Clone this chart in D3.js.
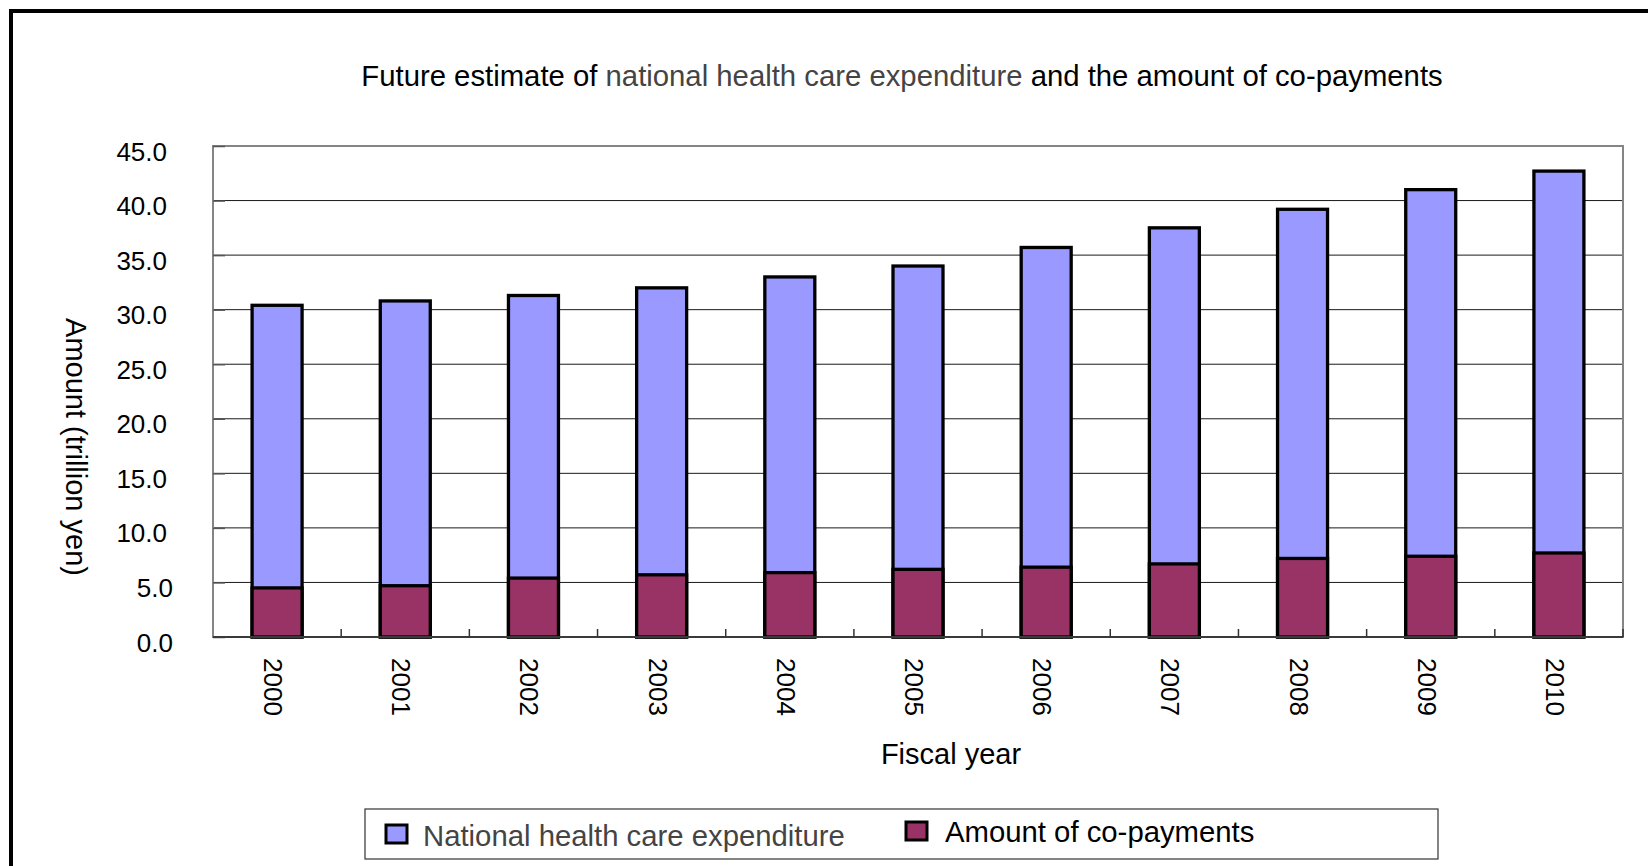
<!DOCTYPE html>
<html>
<head>
<meta charset="utf-8">
<script src="https://cdn.jsdelivr.net/npm/d3@7"></script>
<style>
  html, body { margin: 0; padding: 0; background: #fff; }
  svg { display: block; font-family: "Liberation Sans", Arial, sans-serif; }
</style>
</head>
<body>
<svg id="chart" width="1648" height="866"></svg>
<script>
// Fiscal years on the category axis
const years = ["2000", "2001", "2002", "2003", "2004", "2005", "2006", "2007", "2008", "2009", "2010"];
// National health care expenditure (trillion yen)
const expenditure = [30.4, 30.8, 31.3, 32.0, 33.0, 34.0, 35.7, 37.5, 39.2, 41.0, 42.7];
// Amount of co-payments (trillion yen)
const copayments = [4.5, 4.7, 5.4, 5.7, 5.9, 6.2, 6.4, 6.7, 7.2, 7.4, 7.7];
// Value-axis ticks
const yTicks = [0, 5, 10, 15, 20, 25, 30, 35, 40, 45];

const seriesNames = ["National health care expenditure", "Amount of co-payments"];
const colors = ["#9999FF", "#993366"];

const svg = d3.select("#chart");

// outer frame
svg.append("rect")
  .attr("x", 11).attr("y", 11).attr("width", 1700).attr("height", 900)
  .attr("fill", "#fff").attr("stroke", "#000").attr("stroke-width", 4);

const plot = { left: 213, right: 1623, top: 146, bottom: 637 };

const x = d3.scaleBand()
  .domain(years)
  .range([plot.left, plot.right])
  .paddingInner(0.61)
  .paddingOuter(0.305);

const y = d3.scaleLinear().domain([0, 45]).range([plot.bottom, plot.top]);

// gridlines
svg.append("g")
  .selectAll("line")
  .data(yTicks.filter(t => t > 0 && t < 45))
  .join("line")
  .attr("x1", plot.left).attr("x2", plot.right)
  .attr("y1", d => y(d)).attr("y2", d => y(d))
  .attr("stroke", "#1a1a1a").attr("stroke-width", 1);

// plot area border
svg.append("rect")
  .attr("x", plot.left).attr("y", plot.top)
  .attr("width", plot.right - plot.left).attr("height", plot.bottom - plot.top)
  .attr("fill", "none").attr("stroke", "#858585").attr("stroke-width", 2);

// value axis: inside ticks and labels
const yAxis = d3.axisLeft(y)
  .tickValues(yTicks)
  .tickSize(-12)
  .tickFormat(d3.format(".1f"));
const yg = svg.append("g").attr("transform", `translate(${plot.left},0)`).call(yAxis);
yg.select(".domain").remove();
yg.selectAll(".tick line").attr("stroke", "#555").attr("stroke-width", 1.5);
yg.selectAll(".tick text")
  .attr("x", d => d < 10 ? -40 : -46)
  .attr("dy", "14")
  .attr("font-size", 26)
  .attr("fill", "#000")
  .attr("font-family", "Liberation Sans, Arial, sans-serif");

// bars: expenditure behind, co-payments in front
const bars = svg.append("g");
bars.selectAll("rect.exp")
  .data(years)
  .join("rect")
  .attr("class", "exp")
  .attr("x", d => x(d))
  .attr("width", x.bandwidth())
  .attr("y", (d, i) => y(expenditure[i]))
  .attr("height", (d, i) => y(0) - y(expenditure[i]))
  .attr("fill", colors[0]).attr("stroke", "#000").attr("stroke-width", 3.3);

bars.selectAll("rect.cop")
  .data(years)
  .join("rect")
  .attr("class", "cop")
  .attr("x", d => x(d))
  .attr("width", x.bandwidth())
  .attr("y", (d, i) => y(copayments[i]))
  .attr("height", (d, i) => y(0) - y(copayments[i]))
  .attr("fill", colors[1]).attr("stroke", "#000").attr("stroke-width", 3.3);

// category axis line and tick marks between categories
svg.append("line")
  .attr("x1", plot.left).attr("x2", plot.right)
  .attr("y1", plot.bottom).attr("y2", plot.bottom)
  .attr("stroke", "#3a3a3a").attr("stroke-width", 2);

const step = x.step();
const boundaries = d3.range(1, years.length + 1).map(k => plot.left + k * step);
svg.append("g")
  .selectAll("line")
  .data(boundaries)
  .join("line")
  .attr("x1", d => d).attr("x2", d => d)
  .attr("y1", plot.bottom).attr("y2", plot.bottom - 8)
  .attr("stroke", "#333").attr("stroke-width", 1.5);

// rotated year labels
svg.append("g")
  .selectAll("text")
  .data(years)
  .join("text")
  .attr("transform", d => `translate(${x(d) + x.bandwidth() / 2 - 13},658) rotate(90)`)
  .attr("font-size", 26)
  .attr("fill", "#000")
  .text(d => d);

// axis titles
svg.append("text")
  .attr("transform", "translate(66,447) rotate(90)")
  .attr("text-anchor", "middle")
  .attr("font-size", 29)
  .attr("fill", "#000")
  .text("Amount (trillion yen)");

svg.append("text")
  .attr("x", 951).attr("y", 764)
  .attr("text-anchor", "middle")
  .attr("font-size", 29)
  .attr("fill", "#000")
  .text("Fiscal year");

// chart title
const title = svg.append("text")
  .attr("x", 902).attr("y", 86)
  .attr("text-anchor", "middle")
  .attr("font-size", 29.3)
  .attr("fill", "#000");
title.append("tspan").text("Future estimate of ");
title.append("tspan").attr("fill", "#444").text("national health care expenditure");
title.append("tspan").text(" and the amount of co-payments");

// legend
const legend = svg.append("g");
legend.append("rect")
  .attr("x", 365).attr("y", 809).attr("width", 1073).attr("height", 50)
  .attr("fill", "#fff").attr("stroke", "#333").attr("stroke-width", 1.2);

const legendItems = [
  { swX: 386, swY: 825, txX: 423, txY: 846, textFill: "#444" },
  { swX: 906, swY: 822, txX: 945, txY: 842, textFill: "#000" }
];
legend.selectAll("rect.sw")
  .data(legendItems)
  .join("rect")
  .attr("class", "sw")
  .attr("x", d => d.swX).attr("y", d => d.swY)
  .attr("width", 21).attr("height", 18)
  .attr("fill", (d, i) => colors[i])
  .attr("stroke", "#000").attr("stroke-width", 3);
legend.selectAll("text")
  .data(legendItems)
  .join("text")
  .attr("x", d => d.txX).attr("y", d => d.txY)
  .attr("font-size", 29.3)
  .attr("fill", d => d.textFill)
  .text((d, i) => seriesNames[i]);
</script>
</body>
</html>
